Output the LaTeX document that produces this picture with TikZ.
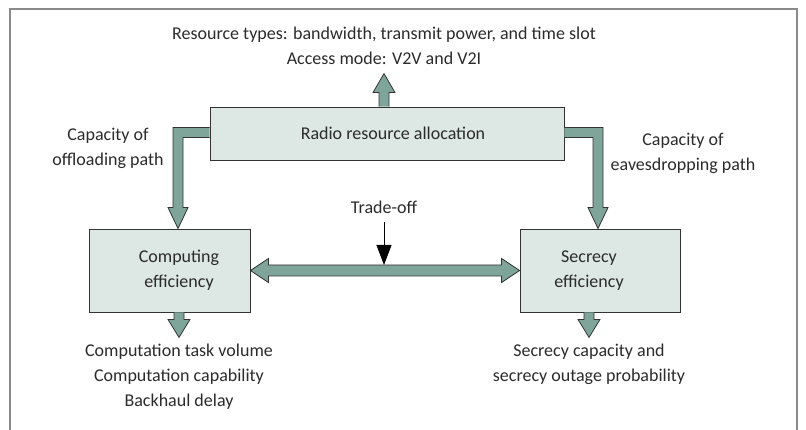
\documentclass[tikz,border=0pt]{standalone}
\usepackage{fontspec}
\setmainfont{Carlito}
\usetikzlibrary{calc,arrows.meta}
\definecolor{boxfill}{HTML}{DDE7E3}
\definecolor{arrfill}{HTML}{7FA59B}
\definecolor{edge}{HTML}{333333}
\definecolor{txt}{HTML}{2B2B2B}
\definecolor{framec}{HTML}{8A8A8A}
\begin{document}
\begin{tikzpicture}[x=1pt,y=1pt,
  font=\fontsize{18}{25}\selectfont, text=txt,
  box/.style={draw=edge, fill=boxfill, line width=0.9pt, inner sep=0pt},
  blk/.style={draw=edge, fill=arrfill, line width=0.8pt, line join=miter},
  lbl/.style={align=center, inner sep=0pt},
  framel/.style={draw=framec, line width=1.5pt}]
\useasboundingbox (0,0) rectangle (806,430);
\draw[framel] (10,0) -- (10,421) -- (797,421) -- (797,0);

% boxes
\node[box, minimum width=354pt, minimum height=53pt] (radio) at (387,296.5) {};
\node[lbl] (radioT) at (393,296.5) {Radio resource allocation};
\node[box, minimum width=161pt, minimum height=83pt] (comp) at (169.5,159.5) {};
\node[lbl] (compT) at (179,160) {Computing\\efficiency};
\node[box, minimum width=160pt, minimum height=83pt] (secr) at (600,159.5) {};
\node[lbl] (secrT) at (589,159) {Secrecy\\efficiency};

% labels
\node[lbl] (top) at (384,384) {Resource types: bandwidth, transmit power, and time slot\\Access mode: V2V and V2I};
\node[lbl] (trade) at (384,223) {Trade-off};
\node[lbl] (capL) at (108,282) {Capacity of\\offloading path};
\node[lbl] (capR) at (683,277) {Capacity of\\eavesdropping path};
\node[lbl] (compOut) at (179,53) {Computation task volume\\Computation capability\\Backhaul delay};
\node[lbl] (secrOut) at (589,65.5) {Secrecy capacity and\\secrecy outage probability};

% up arrow
\coordinate (ub) at (radio.north -| top);
\draw[blk] (ub) ++(-5,0) -- ++(0,14) -- ++(-6,0) -- ++(11,19) -- ++(11,-19) -- ++(-6,0) -- ++(0,-14);

% left elbow
\coordinate (lA) at ($(radio.west)+(0,1)$);
\coordinate (lT) at ($(comp.north)+(8.5,0)$);
\draw[blk] ($(lA)+(0,5)$) -- ($(lT|-lA)+(-5,5)$) -- ($(lT)+(-5,21)$) -- ($(lT)+(-10,21)$) -- (lT)
  -- ($(lT)+(10,21)$) -- ($(lT)+(5,21)$) -- ($(lT|-lA)+(5,-5)$) -- ($(lA)+(0,-5)$);

% right elbow
\coordinate (rA) at ($(radio.east)+(0,1)$);
\coordinate (rT) at ($(secr.north)+(-2,0)$);
\draw[blk] ($(rA)+(0,5)$) -- ($(rT|-rA)+(5,5)$) -- ($(rT)+(5,21)$) -- ($(rT)+(10,21)$) -- (rT)
  -- ($(rT)+(-10,21)$) -- ($(rT)+(-5,21)$) -- ($(rT|-rA)+(-5,-5)$) -- ($(rA)+(0,-5)$);

% double arrow
\draw[blk] (comp.east) -- ++(18,12) -- ++(0,-6.5) -- ($(secr.west)+(-18,5.5)$) -- ++(0,6.5) -- (secr.west)
  -- ++(-18,-12) -- ++(0,6.5) -- ($(comp.east)+(18,-5.5)$) -- ++(0,-6.5) -- cycle;

% trade-off arrow
\coordinate (tm) at ($(comp.east)+(0,5.5)$);
\draw[-{Triangle[length=20pt,width=15pt]}, line width=0.8pt, black] ([yshift=-8pt]trade.south) -- (trade |- tm);

% bottom arrows
\coordinate (cb) at ($(comp.south)+(9.5,0)$);
\draw[blk] (cb) ++(-5,0) -- ++(0,-7) -- ++(-6,0) -- ++(11,-18) -- ++(11,18) -- ++(-6,0) -- ++(0,7);
\coordinate (sb) at ($(secr.south)+(-11,0)$);
\draw[blk] (sb) ++(-5,0) -- ++(0,-7) -- ++(-6,0) -- ++(11,-18) -- ++(11,18) -- ++(-6,0) -- ++(0,7);
\end{tikzpicture}
\end{document}
